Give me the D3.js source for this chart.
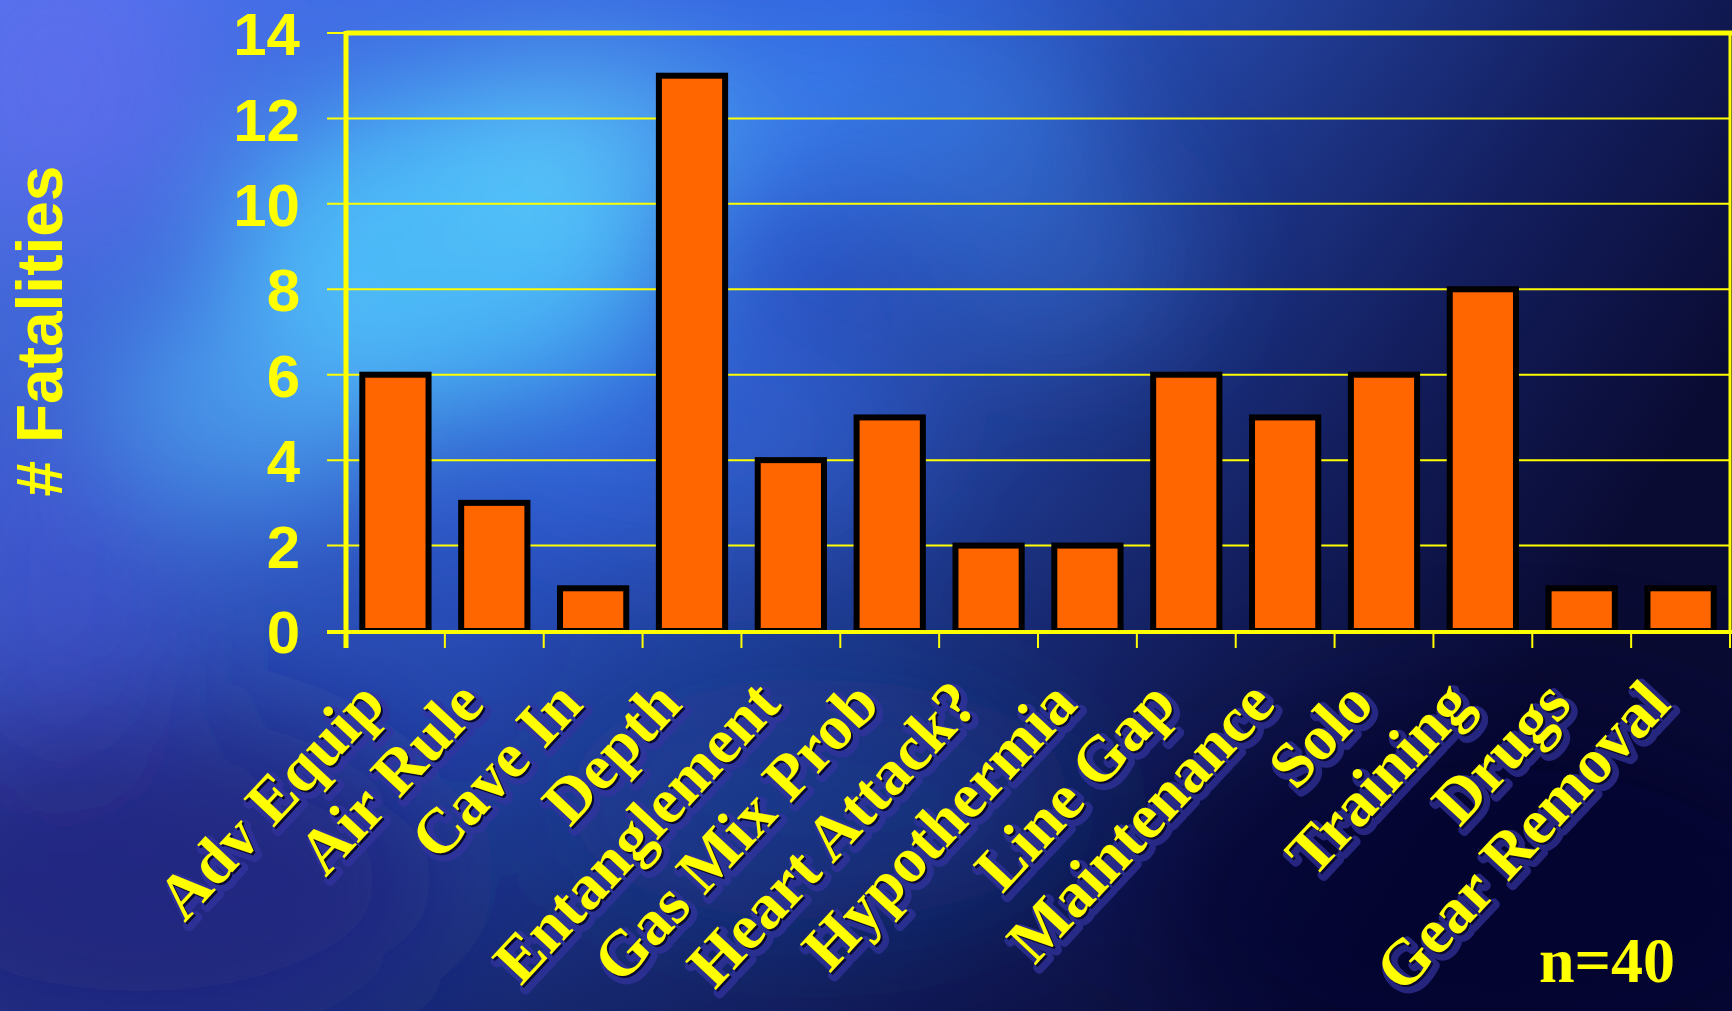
<!DOCTYPE html>
<html><head><meta charset="utf-8">
<script src="https://cdn.jsdelivr.net/npm/d3@7"></script>
<style>html,body{margin:0;padding:0;background:#0a1040;overflow:hidden}svg{display:block}</style>
</head><body><svg id="chart" width="1732" height="1011"></svg>
<script>
const categories = ["Adv Equip","Air Rule","Cave In","Depth","Entanglement","Gas Mix Prob","Heart Attack?","Hypothermia","Line Gap","Maintenance","Solo","Training","Drugs","Gear Removal"];
const fatalities = [6,3,1,13,4,5,2,2,6,5,6,8,1,1];
const yTicks = [0,2,4,6,8,10,12,14];
const yTitle = "# Fatalities";
const noteText = "n=40";

(function(){
const W = 1732, H = 1011;
const pL = 346, pR = 1730, pT = 33, pB = 631;
const svg = d3.select("#chart");
const defs = svg.append("defs");

// background
const lg = defs.append("linearGradient").attr("id","bg").attr("x1","0").attr("y1","0").attr("x2","1").attr("y2","0.35");
[[0,"#4c74ea"],[0.45,"#3060dc"],[0.65,"#23429e"],[0.83,"#142062"],[1,"#0a0b32"]].forEach(s=>lg.append("stop").attr("offset",s[0]).attr("stop-color",s[1]));
const vg = defs.append("linearGradient").attr("id","vshade").attr("x1","0").attr("y1","0").attr("x2","0").attr("y2","1");
[[0,"#0a0c3a",0],[0.5,"#0a0c3a",0.15],[1,"#0a0c3a",0.55]].forEach(s=>vg.append("stop").attr("offset",s[0]).attr("stop-color",s[1]).attr("stop-opacity",s[2]));
defs.append("filter").attr("id","blur").attr("filterUnits","userSpaceOnUse").attr("x",-300).attr("y",-300).attr("width",W+600).attr("height",H+600)
  .append("feGaussianBlur").attr("stdDeviation",60);
svg.append("rect").attr("width",W).attr("height",H).attr("fill","url(#bg)");
svg.append("rect").attr("width",W).attr("height",H).attr("fill","url(#vshade)");
const blobs = [
  [450,250,220,160,"#52d0ff",0.8],[260,400,150,110,"#58c4ff",0.55],[600,130,150,90,"#66dcff",0.5],
  [880,110,220,90,"#45a0ff",0.4],[1050,260,140,100,"#3f8cf5",0.3],[700,430,220,120,"#3a78f0",0.35],
  [60,80,140,160,"#6a6cf0",0.55],[60,600,120,200,"#4a50d8",0.4],
  [140,880,300,170,"#24207a",0.75],[820,800,260,120,"#1e4aa8",0.35],[1500,900,350,200,"#080a2c",0.6]
];
const bgG = svg.append("g").attr("filter","url(#blur)");
bgG.selectAll("ellipse").data(blobs).join("ellipse")
  .attr("cx",d=>d[0]).attr("cy",d=>d[1]).attr("rx",d=>d[2]).attr("ry",d=>d[3])
  .attr("fill",d=>d[4]).attr("opacity",d=>d[5]);

const x = d3.scaleBand().domain(categories).range([pL,pR]).paddingInner(0.33).paddingOuter(0.165);
const y = d3.scaleLinear().domain([0,14]).range([pB,pT]);
const YEL = "#ffff00";

// gridlines (with left tick stubs)
svg.append("g").selectAll("line").data(yTicks.filter(t=>t>0 && t<14)).join("line")
  .attr("x1",pL-19).attr("x2",pR).attr("y1",d=>y(d)).attr("y2",d=>y(d))
  .attr("stroke",YEL).attr("stroke-width",2);
// top border
svg.append("line").attr("x1",pL-19).attr("x2",pL).attr("y1",y(14)).attr("y2",y(14)).attr("stroke",YEL).attr("stroke-width",2);
svg.append("line").attr("x1",pL).attr("x2",W).attr("y1",y(14)).attr("y2",y(14)).attr("stroke",YEL).attr("stroke-width",5);
svg.append("line").attr("x1",pR).attr("x2",pR).attr("y1",y(14)).attr("y2",pB).attr("stroke",YEL).attr("stroke-width",3);

// bars
svg.append("g").selectAll("rect").data(categories).join("rect")
  .attr("x",d=>x(d)).attr("width",x.bandwidth())
  .attr("y",(d,i)=>y(fatalities[i])).attr("height",(d,i)=>pB-y(fatalities[i]))
  .attr("fill","#ff6600").attr("stroke","#000").attr("stroke-width",6);

// baseline + x ticks
svg.append("line").attr("x1",pL-19).attr("x2",pR+2).attr("y1",pB+1).attr("y2",pB+1).attr("stroke",YEL).attr("stroke-width",4);
const bounds = d3.range(categories.length+1).map(k=>x.range()[0]+k*x.step());
svg.append("g").selectAll("line").data(bounds).join("line")
  .attr("x1",d=>d).attr("x2",d=>d).attr("y1",pB).attr("y2",pB+17)
  .attr("stroke",YEL).attr("stroke-width",2);
// y axis line
svg.append("line").attr("x1",pL).attr("x2",pL).attr("y1",y(14)-2).attr("y2",pB+17).attr("stroke",YEL).attr("stroke-width",5);

// y tick labels
const yAxis = svg.append("g").attr("transform",`translate(${pL},0)`)
  .call(d3.axisLeft(y).tickValues(yTicks).tickSize(0).tickPadding(46).tickFormat(d3.format("d")));
yAxis.select(".domain").remove();
yAxis.selectAll("text").attr("fill",YEL).style("font-family","'Liberation Sans',Arial,sans-serif")
  .style("font-weight","bold").style("font-size","60px").attr("dy","0.36em");

// y title
svg.append("text").attr("transform","translate(62,331) rotate(-90)").attr("text-anchor","middle")
  .attr("fill",YEL).style("font-family","'Liberation Sans',Arial,sans-serif").style("font-weight","bold").style("font-size","64px")
  .text(yTitle);

// category labels
const lab = svg.append("g");
const labFont = "'Liberation Serif','Times New Roman',serif";
const layers = [
  {dx:4,dy:4,fill:"#3434a0",stroke:"#3434a0",sw:9,op:0.7},
  {dx:2,dy:2,fill:"#0a0a30",stroke:"none",sw:0,op:1},
  {dx:0,dy:0,fill:YEL,stroke:"none",sw:0,op:1}
];
const lx = d => x(d)+x.bandwidth()/2-8, ly = 706;
layers.forEach(L=>{
  lab.append("g").selectAll("text").data(categories).join("text")
    .attr("transform",d=>`translate(${lx(d)+L.dx},${ly+L.dy}) rotate(-47)`)
    .attr("text-anchor","end").attr("fill",L.fill).attr("stroke",L.stroke).attr("stroke-width",L.sw)
    .attr("stroke-linejoin","round").attr("opacity",L.op)
    .style("font-family",labFont).style("font-weight","bold").style("font-size","64px")
    .text(d=>d);
});

// note
svg.append("text").attr("x",1539).attr("y",982).attr("fill",YEL)
  .style("font-family",labFont).style("font-weight","bold").style("font-size","64px").text(noteText);
})();
</script></body></html>
